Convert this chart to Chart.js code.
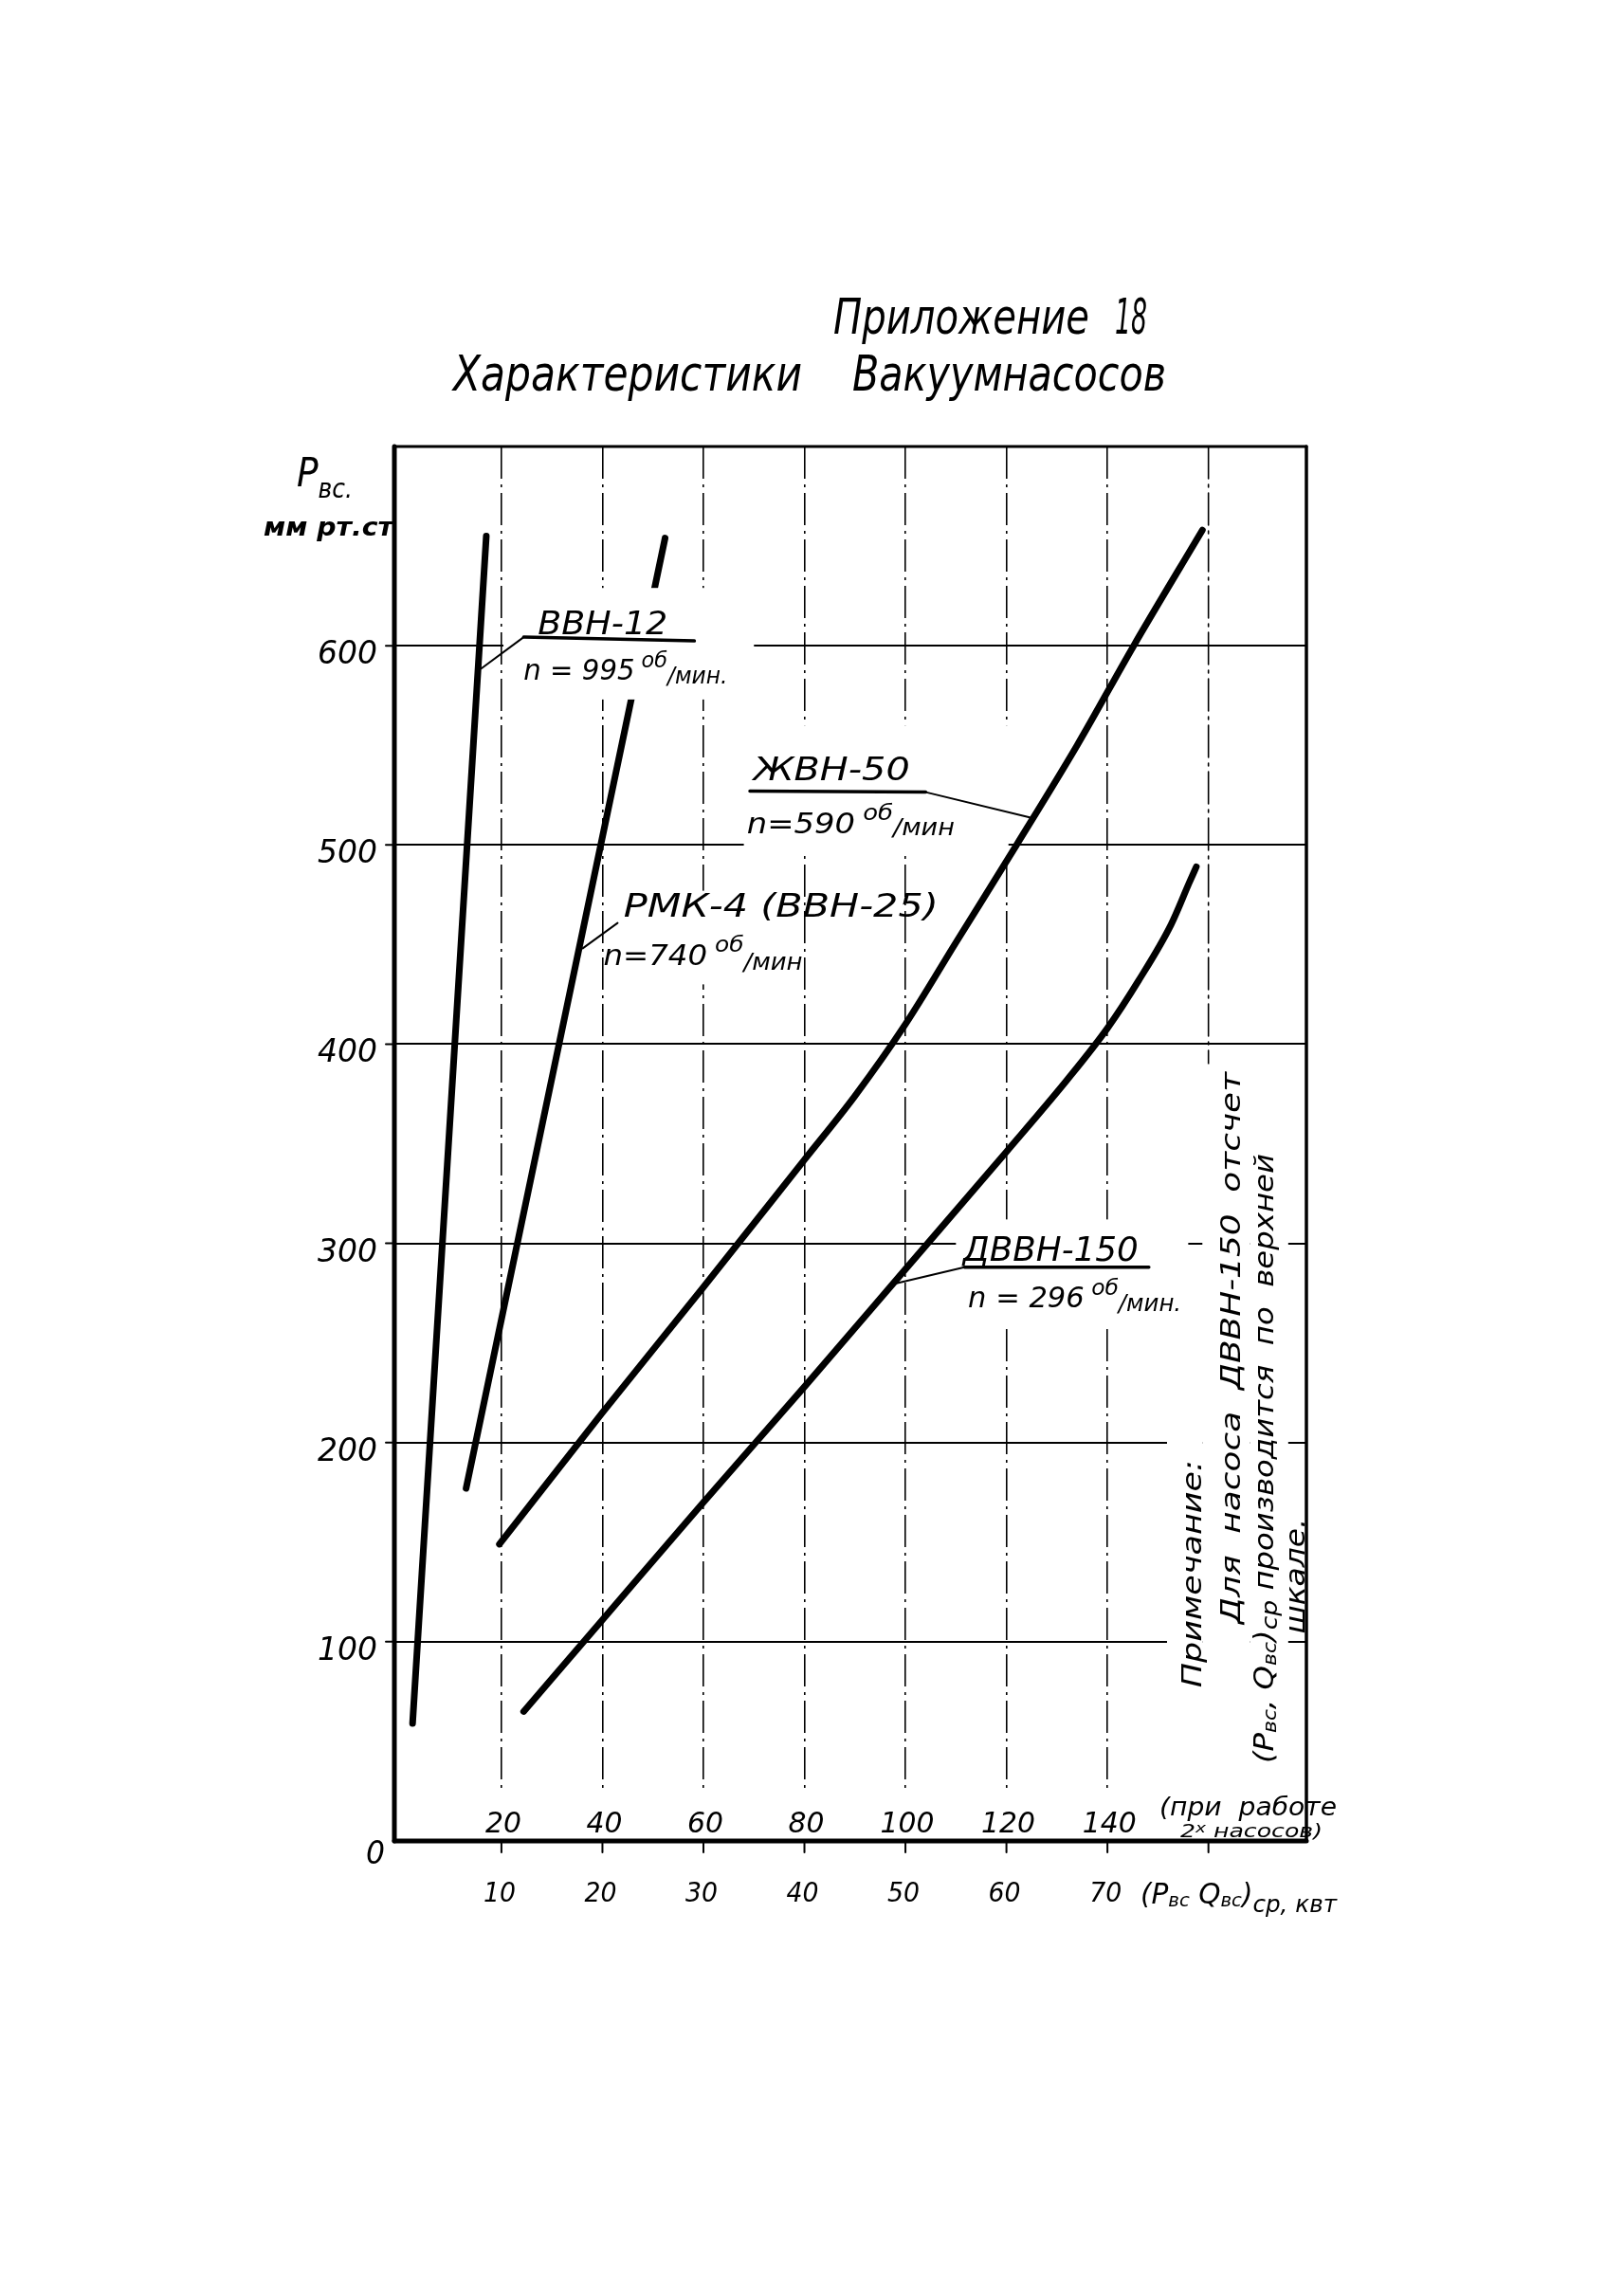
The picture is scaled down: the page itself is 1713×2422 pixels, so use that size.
<!DOCTYPE html>
<html lang="ru">
<head>
<meta charset="UTF-8">
<title>Характеристики вакуумнасосов</title>
<style>
    body { margin: 0; background: #fff; }
    .wrap { position: relative; width: 1713px; height: 2422px; }
</style>
</head>
<body>
<div class="wrap"><canvas id="chart"></canvas></div>
<script src="https://cdn.jsdelivr.net/npm/chart.js@4.4.1/dist/chart.umd.min.js"></script>
<script>
// grid and tick values
const xGridValues = [10, 20, 30, 40, 50, 60, 70];
const yGridValues = [100, 200, 300, 400, 500, 600];
const yTickLabels = ['100', '200', '300', '400', '500', '600'];
const xTickValues = [10, 20, 30, 40, 50, 60, 70];
const xTopTickLabels = ['20', '40', '60', '80', '100', '120', '140'];   // for 2 pumps
const xBottomTickLabels = ['10', '20', '30', '40', '50', '60', '70'];

// curves: x = (Pвс Qвс)ср, квт ; y = Pвс, мм рт.ст
const vvn12X = [1.2, 8.5];
const vvn12Y = [59, 655];
const rmk4X = [6.5, 15.7, 26.2];
const rmk4Y = [177, 400, 654];
const zhvn50X = [9.8, 20, 30, 40, 45, 50, 55, 61, 67, 72.6, 79.4];
const zhvn50Y = [149, 215, 278, 342, 374, 410, 451, 500, 550, 600, 658];
const dvvn150X = [12.2, 20, 30, 40, 50, 60, 66, 70, 73.1, 76.3, 78.1, 78.8];
const dvvn150Y = [65, 111, 170, 228, 287, 346, 382, 408, 432, 460, 481, 489];

const FONT = '"DejaVu Sans", "Noto Sans", sans-serif';

function series(xs, ys) {
    return {
        data: xs.map((x, i) => ({ x: x, y: ys[i] })),
        borderColor: '#000',
        borderWidth: 7,
        pointRadius: 0,
        fill: false,
        cubicInterpolationMode: 'monotone',
        borderCapStyle: 'round',
        borderJoinStyle: 'round'
    };
}

// draw a run of text pieces [text, size, dy], optionally squeezed to width w
function drawSegs(ctx, segs, x, y, opt) {
    opt = opt || {};
    const font = s => `italic ${opt.weight || 'normal'} ${s}px ${FONT}`;
    ctx.save();
    ctx.fillStyle = '#000';
    ctx.textAlign = 'left';
    ctx.textBaseline = 'alphabetic';
    let nat = 0;
    segs.forEach(([t, s]) => { ctx.font = font(s); nat += ctx.measureText(t).width; });
    const sx = opt.w ? opt.w / nat : 1;
    ctx.translate(x, y);
    if (opt.rot) ctx.rotate(opt.rot);
    if (opt.align === 'center') ctx.translate(-nat * sx / 2, 0);
    if (opt.align === 'right') ctx.translate(-nat * sx, 0);
    ctx.scale(sx, 1);
    let cx = 0;
    segs.forEach(([t, s, dy]) => {
        ctx.font = font(s);
        ctx.fillText(t, cx, dy || 0);
        cx += ctx.measureText(t).width;
    });
    ctx.restore();
}

function line(ctx, x1, y1, x2, y2, w, dash) {
    ctx.save();
    ctx.strokeStyle = '#000';
    ctx.lineWidth = w;
    ctx.lineCap = 'round';
    ctx.setLineDash(dash || []);
    ctx.beginPath();
    ctx.moveTo(x1, y1);
    ctx.lineTo(x2, y2);
    ctx.stroke();
    ctx.restore();
}

// label boxes (data units) that blank the grid behind the lettering
const labelBoxes = [
    [10.2, 35, 573, 629],
    [20.4, 39, 430, 477],
    [34, 60.2, 497, 560],
    [55, 78, 258, 312],
    [75.9, 79.4, 72, 202],
    [79.4, 84.1, 95, 390],
    [84.1, 87.9, 34, 350],
    [87.7, 89.4, 101, 166]
];

const curveLabels = [
    { x: 13.6, y: 606, w: 137, segs: [['ВВН-12', 34]] },
    { x: 12.2, y: 583, w: 215, segs: [['n = 995', 30], [' об', 23, -13], ['/мин.', 24, 4]] },
    { x: 22.1, y: 464, w: 332, segs: [['РМК-4 (ВВН-25)', 34]] },
    { x: 20.1, y: 439.5, w: 210, segs: [['n=740', 30], [' об', 23, -14], ['/мин', 24, 5]] },
    { x: 34.95, y: 532.5, w: 165, segs: [['ЖВН-50', 34]] },
    { x: 34.3, y: 506, w: 219, segs: [['n=590', 30], [' об', 23, -14], ['/мин', 24, 2]] },
    { x: 55.7, y: 291, w: 185, segs: [['ДВВН-150', 36]] },
    { x: 56.2, y: 268, w: 225, segs: [['n = 296', 30], [' об', 23, -13], ['/мин.', 24, 4]] }
];

const underlines = [
    [12.2, 604.3, 29.1, 602.4],
    [34.6, 527, 52.0, 526.5],
    [55.85, 288, 74.1, 288]
];
const leaders = [
    [12.2, 604.3, 8.0, 588.5],
    [21.5, 460.8, 18.05, 448.1],
    [52.0, 526.5, 62.3, 513.8],
    [55.85, 288, 48.8, 279.6]
];

// note, written bottom to top: column x, start y, length px
const noteLines = [
    { x: 78.3, y: 77, w: 240, segs: [['Примечание:', 28]] },
    { x: 82.2, y: 109, w: 582, segs: [['Для  насоса  ДВВН-150  отсчет', 28]] },
    { x: 85.5, y: 39, w: 643, segs: [['(Р', 28], ['вс', 19, 3], [', Q', 28], ['вс', 19, 3], [')', 28], ['ср', 23, 4], [' производится  по  верхней', 28]] },
    { x: 88.6, y: 104, w: 122, segs: [['шкале.', 28]] }
];

const drawingPlugin = {
    id: 'drawing',
    beforeDatasetsDraw(chart) {
        const ctx = chart.ctx;
        const sx = chart.scales.x, sy = chart.scales.y;
        // x = 80 grid line only runs down to the note
        line(ctx, sx.getPixelForValue(80), sy.getPixelForValue(700), sx.getPixelForValue(80), sy.getPixelForValue(335), 1.6, [34, 6, 3, 6]);
    },
    afterDatasetsDraw(chart) {
        const ctx = chart.ctx;
        const a = chart.chartArea;
        const sx = chart.scales.x, sy = chart.scales.y;
        const px = v => sx.getPixelForValue(v);
        const py = v => sy.getPixelForValue(v);

        ctx.save();
        ctx.fillStyle = '#fff';
        labelBoxes.forEach(([x1, x2, y1, y2]) => {
            ctx.fillRect(px(x1), py(y2), px(x2) - px(x1), py(y1) - py(y2));
        });
        // blank the grid above the upper scale numbers
        xTickValues.forEach((v, i) => {
            const w = xTopTickLabels[i].length * 19 + 10;
            ctx.fillRect(px(v) - w / 2, a.bottom - 50, w, 46);
        });
        ctx.restore();

        leaders.forEach(([x1, y1, x2, y2]) => line(ctx, px(x1), py(y1), px(x2), py(y2), 2));
        underlines.forEach(([x1, y1, x2, y2]) => line(ctx, px(x1), py(y1), px(x2), py(y2), 3.5));
        curveLabels.forEach(l => drawSegs(ctx, l.segs, px(l.x), py(l.y), { w: l.w }));

        noteLines.forEach(n => drawSegs(ctx, n.segs, px(n.x) + 10, py(n.y), { w: n.w, rot: -Math.PI / 2 }));

        // frame and axes
        line(ctx, a.left, a.top, a.right, a.top, 3);
        line(ctx, a.right, a.top, a.right, a.bottom, 3.5);
        line(ctx, a.left, a.top, a.left, a.bottom, 5);
        line(ctx, a.left, a.bottom, a.right, a.bottom, 5);

        // ticks and numbers
        yGridValues.forEach((v, i) => {
            line(ctx, a.left - 9, py(v), a.left, py(v), 2);
            drawSegs(ctx, [[yTickLabels[i], 34]], a.left - 18, py(v) + 19, { align: 'right', w: 63 });
        });
        xTickValues.concat([80]).forEach(v => line(ctx, px(v), a.bottom, px(v), a.bottom + 12, 2));
        xTickValues.forEach((v, i) => {
            const t = xTopTickLabels[i];
            drawSegs(ctx, [[t, 31]], px(v) + 2, a.bottom - 9, { align: 'center', w: t.length * 19 });
            const b = xBottomTickLabels[i];
            drawSegs(ctx, [[b, 28]], px(v) - 2, a.bottom + 64, { align: 'center', w: 34 });
        });
        drawSegs(ctx, [['0', 34]], 386, 1966, { w: 20 });

        drawSegs(ctx, [['(при  работе', 26]], 1223, 1915, { w: 187 });
        drawSegs(ctx, [['2', 19], ['х', 14, -5], [' насосов)', 19]], 1245, 1938, { w: 150 });
        drawSegs(ctx, [['(Р', 30], ['вс', 20, 3], [' Q', 30], ['вс', 20, 3], [')', 30], ['ср, квт', 25, 9]], 1203, 2008, { w: 207 });

        // axis title
        drawSegs(ctx, [['Р', 42], ['вс.', 28, 12]], 313, 513, { w: 59 });
        drawSegs(ctx, [['мм рт.ст', 27]], 278, 565, { w: 137, weight: 'bold' });

        // heading
        drawSegs(ctx, [['Приложение', 52]], 879, 352, { w: 270 });
        drawSegs(ctx, [['18', 52]], 1176, 352, { w: 34 });
        drawSegs(ctx, [['Характеристики', 52]], 478, 412, { w: 368 });
        drawSegs(ctx, [['Вакуумнасосов', 52]], 899, 412, { w: 331 });
    }
};

new Chart(document.getElementById('chart'), {
    type: 'line',
    data: {
        datasets: [
            series(vvn12X, vvn12Y),
            series(rmk4X, rmk4Y),
            series(zhvn50X, zhvn50Y),
            series(dvvn150X, dvvn150Y)
        ]
    },
    options: {
        responsive: true,
        maintainAspectRatio: false,
        animation: false,
        layout: { padding: { left: 416, right: 335, top: 471, bottom: 480 } },
        plugins: {
            legend: { display: false },
            tooltip: { enabled: false },
            title: { display: false }
        },
        scales: {
            x: {
                type: 'linear',
                min: -0.6,
                max: 89.7,
                afterBuildTicks: s => { s.ticks = xGridValues.map(v => ({ value: v })); },
                ticks: { display: false },
                grid: { drawTicks: false, color: '#000', lineWidth: 1.6 },
                border: { display: false, dash: [34, 6, 3, 6] }
            },
            y: {
                type: 'linear',
                min: 0,
                max: 700,
                afterBuildTicks: s => { s.ticks = yGridValues.map(v => ({ value: v })); },
                ticks: { display: false },
                grid: { drawTicks: false, color: '#000', lineWidth: 2 },
                border: { display: false }
            }
        }
    },
    plugins: [drawingPlugin]
});
</script>
</body>
</html>
